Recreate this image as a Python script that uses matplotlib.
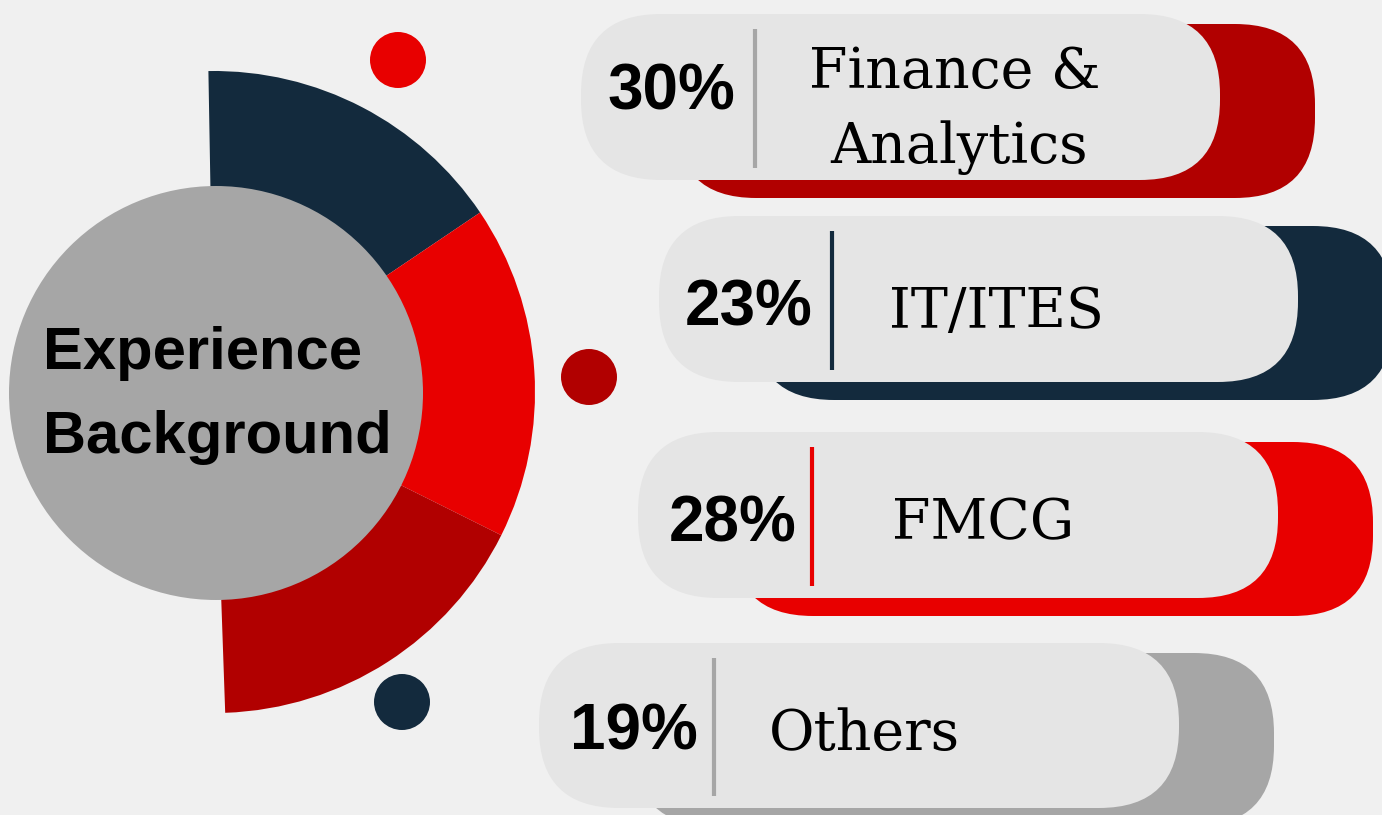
import matplotlib
matplotlib.use('Agg')
import matplotlib.pyplot as plt
from matplotlib.patches import Circle, Wedge, FancyBboxPatch

W, H = 1382, 815

# sector data
categories = ['Finance &\nAnalytics', 'IT/ITES', 'FMCG', 'Others']
shares = [30, 23, 28, 19]
accent = ['#b10000', '#132a3d', '#e80000', '#a6a6a6']
rule_colors = ['#a6a6a6', '#132a3d', '#e80000', '#a6a6a6']

# half ring behind the title disc (degrees, clockwise from the top)
ring_spans = [57, 60.5, 61.5]
ring_colors = ['#132a3d', '#e80000', '#b10000']

BG = '#f0f0f0'
PILL = '#e5e5e5'


def Y(y):
    # layout below is measured from the top edge
    return H - y


fig = plt.figure(figsize=(W / 100, H / 100), dpi=100)
fig.patch.set_facecolor(BG)
ax = fig.add_axes([0, 0, 1, 1])
ax.set_xlim(0, W)
ax.set_ylim(0, H)
ax.axis('off')

# ring segments
cx, cy, r_out = 214, 392, 321
start = 91
for span, col in zip(ring_spans, ring_colors):
    ax.add_patch(Wedge((cx, Y(cy)), r_out, start - span, start, width=200,
                       facecolor=col, edgecolor='none'))
    start -= span

# title disc
ax.add_patch(Circle((216, Y(393)), 207, facecolor='#a6a6a6', edgecolor='none'))
ax.text(43, Y(369), 'Experience', fontsize=43, fontweight='bold',
        family='Liberation Sans', ha='left', va='baseline', color='black')
ax.text(43, Y(453), 'Background', fontsize=43, fontweight='bold',
        family='Liberation Sans', ha='left', va='baseline', color='black')

# small dots around the ring
for (dx, dy), col in zip([(398, 60), (589, 377), (402, 702)],
                         ['#e80000', '#b10000', '#132a3d']):
    ax.add_patch(Circle((dx, Y(dy)), 28, facecolor=col, edgecolor='none'))

# pill boxes: left, top, right, bottom of the light front box
pills = [(581, 14, 1220, 180), (659, 216, 1298, 382),
         (638, 432, 1278, 598), (539, 643, 1179, 808)]
dividers = [755, 832, 812, 714]
pct_x = [671, 749, 733, 634]
pct_base = [110, 325, 542, 749]
label_x = [955, 997, 983, 864]
label_base = [88, 328, 539, 750]
rnd = 80

for i, cat in enumerate(categories):
    x0, y0, x1, y1 = pills[i]
    # coloured shadow box, shifted right and down
    bx0, by0, bx1, by1 = x0 + 95, y0 + 10, x1 + 95, y1 + 18
    ax.add_patch(FancyBboxPatch((bx0, Y(by1)), bx1 - bx0, by1 - by0,
                                boxstyle=f'round,pad=0,rounding_size={rnd}',
                                facecolor=accent[i], edgecolor='none'))
    ax.add_patch(FancyBboxPatch((x0, Y(y1)), x1 - x0, y1 - y0,
                                boxstyle=f'round,pad=0,rounding_size={rnd}',
                                facecolor=PILL, edgecolor='none'))
    ax.plot([dividers[i], dividers[i]], [Y(y0 + 15), Y(y1 - 12)],
            color=rule_colors[i], lw=3, solid_capstyle='butt')
    ax.text(pct_x[i], Y(pct_base[i]), f'{shares[i]}%', fontsize=46,
            fontweight='bold', family='Liberation Sans', ha='center',
            va='baseline', color='black')
    lines = cat.split('\n')
    base = label_base[i]
    for j, line in enumerate(lines):
        ax.text(label_x[i] + 4 * j, Y(base + 75 * j), line, fontsize=40,
                family='DejaVu Serif', ha='center', va='baseline',
                color='black')

fig.savefig('out.png', dpi=100, facecolor=BG)
